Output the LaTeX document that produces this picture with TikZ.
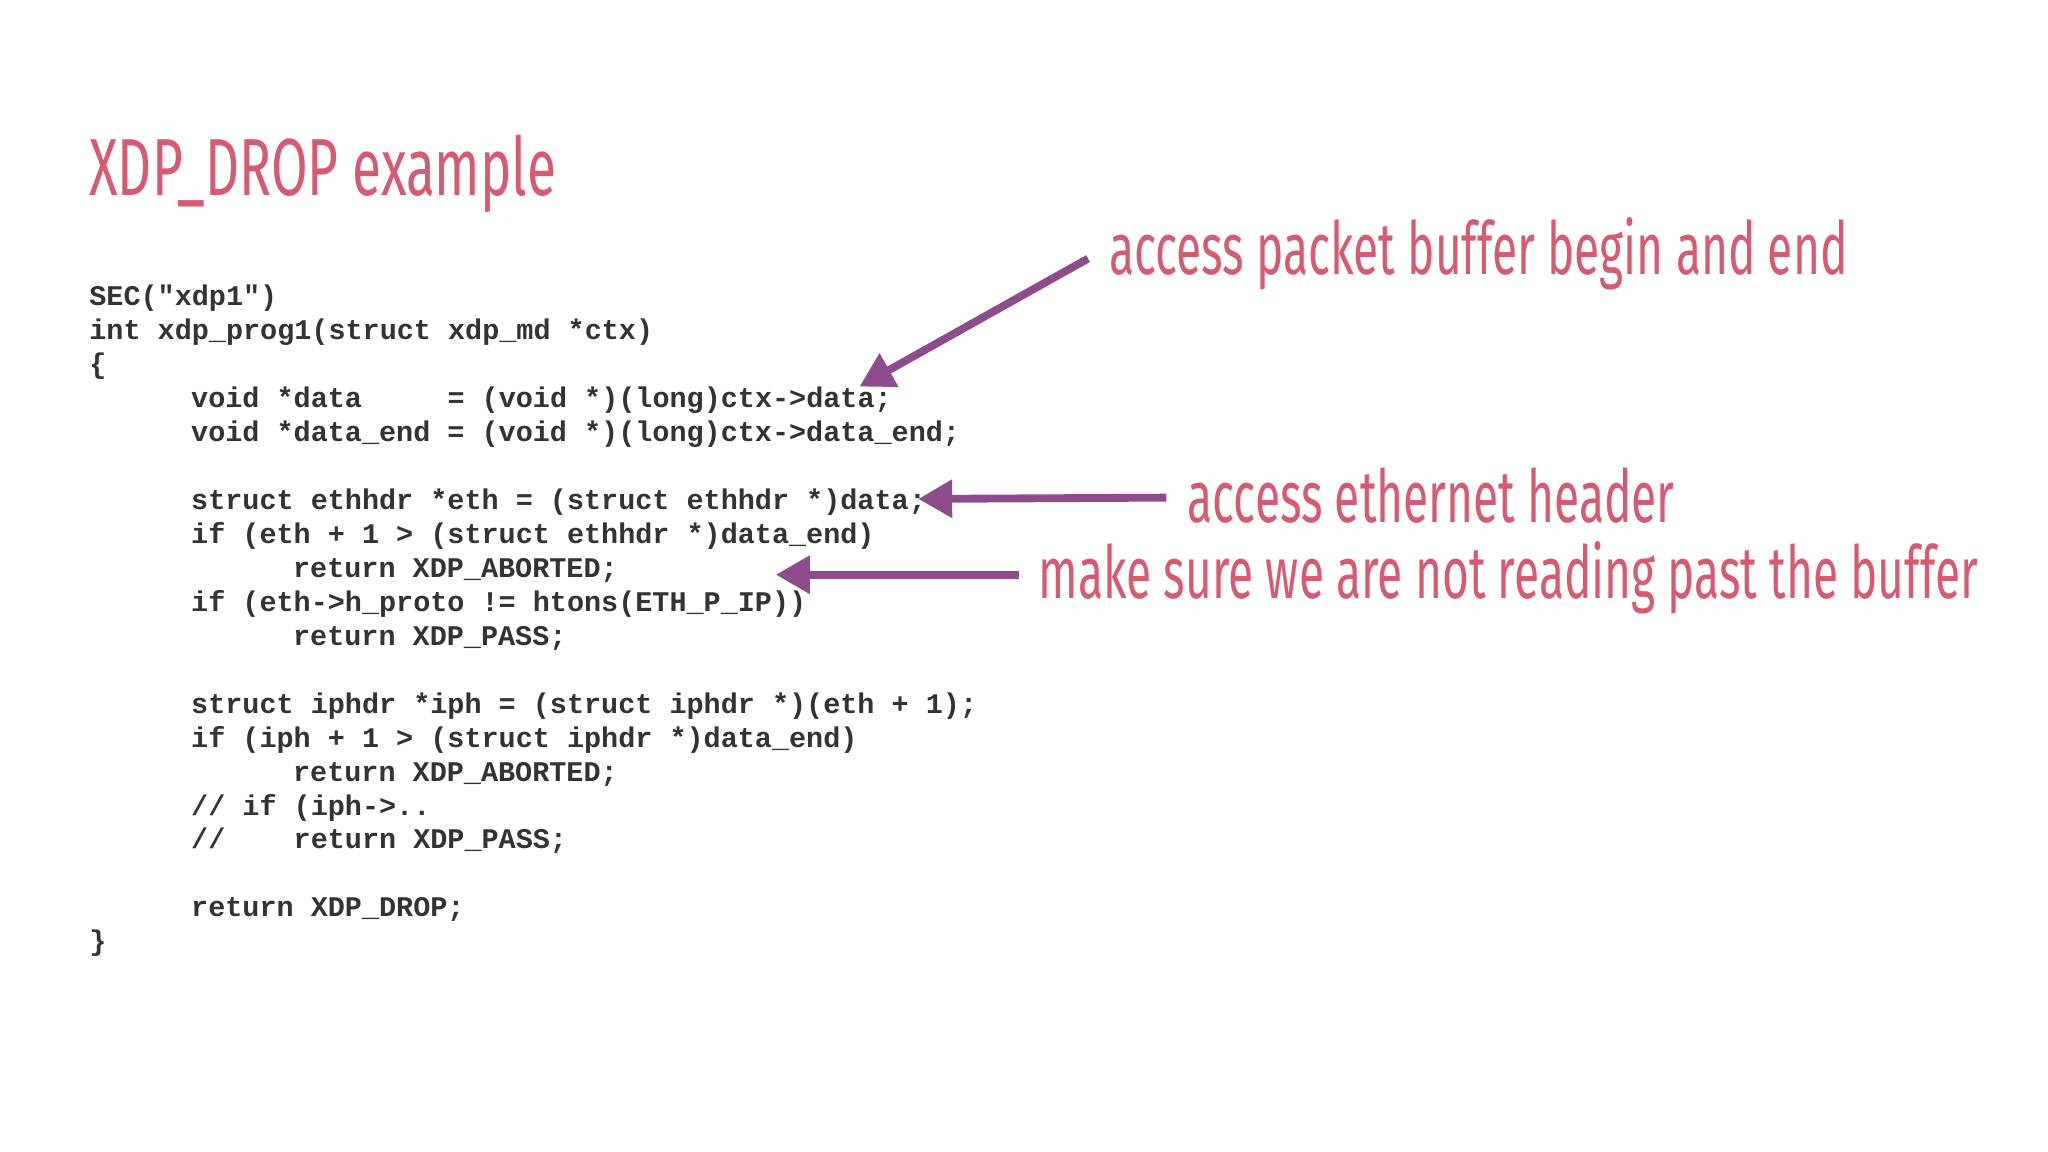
\documentclass[tikz,border=0pt]{standalone}
\usepackage{fontspec}
\setmonofont{Liberation Mono}
\newfontfamily\slide{Fira Sans}[FakeStretch=0.63]
\newfontfamily\slidet{Fira Sans}[FakeStretch=0.655]
\usetikzlibrary{arrows.meta}
\definecolor{pinkt}{HTML}{D65A72}
\definecolor{arr}{HTML}{8E4C8C}
\definecolor{codec}{HTML}{333333}
\begin{document}
\begin{tikzpicture}[x=0.5pt,y=-0.5pt,
  code/.style={anchor=base west,inner sep=0,font=\ttfamily\bfseries\fontsize{10.9}{12}\selectfont,text=codec},
  note/.style={anchor=base west,inner sep=0,font=\slide\fontsize{28}{30}\selectfont,text=pinkt},
  pt/.style={draw=arr,line width=3pt,-{Triangle[length=13pt,width=14pt]}}]
\useasboundingbox (0,0) rectangle (1568,882);
\node[anchor=base west,inner sep=0,font=\slidet\fontsize{31}{33}\selectfont,text=pinkt] (title) at (68,150) {XDP\_DROP example};
\def\L#1#2#3{\node[code] (c#1) at (68+#2*13.0,234+26*#1) {#3};}
\L{0}{0}{SEC("xdp1")}
\L{1}{0}{int xdp\_prog1(struct xdp\_md *ctx)}
\L{2}{0}{\{}
\L{3}{6}{void *data\ \ \ \ \ = (void *)(long)ctx->data;}
\L{4}{6}{void *data\_end = (void *)(long)ctx->data\_end;}
\L{6}{6}{struct ethhdr *eth = (struct ethhdr *)data;}
\L{7}{6}{if (eth + 1 > (struct ethhdr *)data\_end)}
\L{8}{12}{return XDP\_ABORTED;}
\L{9}{6}{if (eth->h\_proto != htons(ETH\_P\_IP))}
\L{10}{12}{return XDP\_PASS;}
\L{12}{6}{struct iphdr *iph = (struct iphdr *)(eth + 1);}
\L{13}{6}{if (iph + 1 > (struct iphdr *)data\_end)}
\L{14}{12}{return XDP\_ABORTED;}
\L{15}{6}{// if (iph->..}
\L{16}{6}{//\ \ \ \ return XDP\_PASS;}
\L{18}{6}{return XDP\_DROP;}
\L{19}{0}{\}}
\node[note] (n1) at (849,210) {access packet buffer begin and end};
\node[note] (n2) at (909,400) {access ethernet header};
\node[note] (n3) at (795,458) {make sure we are not reading past the buffer};
\coordinate (s1) at (833,198); \coordinate (t1) at (658,296);
\coordinate (s2) at (893,381); \coordinate (t2) at (703,382);
\coordinate (s3) at (780,440); \coordinate (t3) at (594,440);
\draw[pt] (s1) -- (t1);
\draw[pt] (s2) -- (t2);
\draw[pt] (s3) -- (t3);
\end{tikzpicture}
\end{document}
